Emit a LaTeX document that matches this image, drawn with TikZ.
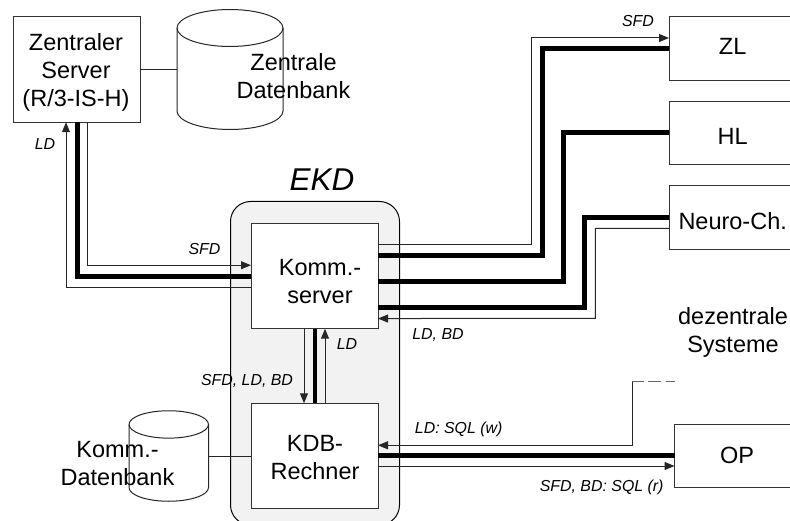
\documentclass[tikz,border=0pt]{standalone}
\usepackage{fontspec}
\setmainfont{Liberation Sans}
\usetikzlibrary{arrows.meta,calc}
\tikzset{
  boxn/.style={draw=black!80,line width=1pt,fill=white,inner sep=0pt,outer sep=0pt,minimum width=127pt,minimum height=#1},
  boxn/.default=105.5pt,
  sysbox/.style={draw=black!80,line width=1pt,fill=white,inner sep=0pt,outer sep=0pt,minimum width=140pt,minimum height=63.5pt},
  dbarea/.style={inner sep=0pt,outer sep=0pt},
  big/.style={font=\fontsize{23.5}{28}\selectfont,align=center,inner sep=0pt},
  tag/.style={font=\fontsize{15.9}{18}\selectfont\itshape,inner sep=0pt},
  thin line/.style={draw=black!85,line width=1pt},
  thick line/.style={draw=black,line width=5pt},
  arr/.style={thin line,-{Triangle[length=10pt,width=8pt]}},
}
\newcommand{\dbcyl}[3]{% node, half width, ry
  \draw[line width=1pt,draw=black!85] ($(#1.north west)+(0,-#3)$) arc[start angle=180,end angle=0,x radius=#2,y radius=#3]
    -- ($(#1.south east)+(0,#3)$) arc[start angle=0,end angle=-180,x radius=#2,y radius=#3] -- cycle;
  \draw[line width=1pt,draw=black!85] ($(#1.north west)+(0,-#3)$) arc[start angle=180,end angle=360,x radius=#2,y radius=#3];
}
\begin{document}
\begin{tikzpicture}[x=1pt,y=-1pt]
\useasboundingbox (0,0) rectangle (790,521);
\clip (0,0) rectangle (790,521);
% EKD region
\draw[fill=black!5,draw=black,line width=1pt,rounded corners=20pt] (230.5,201.5) rectangle (399.5,525);
% boxes
\node[boxn] (zs) at (76.5,69.5) {};
\node[boxn] (ks) at (314.5,276) {};
\node[boxn] (kdb) at (314.5,456) {};
\node[sysbox,anchor=west] (zl) at (669,48.5) {};
\node[sysbox,anchor=west] (hl) at (669,133) {};
\node[sysbox,anchor=west] (nc) at (669,217.5) {};
\node[sysbox,anchor=west] (op) at (674.5,456) {};
% databases
\node[dbarea,minimum width=106pt,minimum height=120pt] (zdb) at (230,69.5) {};
\node[dbarea,minimum width=79.5pt,minimum height=90.5pt] (kd) at (168.75,456) {};
\draw[thin line] (zs) -- (zdb);
\draw[thin line] (kd) -- (kdb);
\dbcyl{zdb}{53pt}{18.5pt}
\dbcyl{kd}{39.75pt}{13.7pt}
% central server <-> komm server
\draw[arr] ($(zs.south west)+(74,0)$) |- ($(ks.north west)+(0,42)$);
\draw[thick line] ($(zs.south west)+(64,0)$) |- ($(ks.north west)+(0,53)$);
\draw[arr] ($(ks.north west)+(0,64)$) -| ($(zs.south west)+(53,0)$);
% komm server -> ZL
\draw[arr] ($(ks.north east)+(0,21)$) -| (531.7,38) -- (zl.west |- 0,38);
\draw[thick line] ($(ks.north east)+(0,32)$) -| (542.5,49) -- (zl.west |- 0,49);
% HL
\draw[thick line] ($(ks.north east)+(0,58.5)$) -| (563,133) -- (hl.west);
% Neuro
\draw[thick line] ($(ks.north east)+(0,84.7)$) -| (584.7,218) -- (nc.west |- 0,218);
\draw[arr] (nc.west |- 0,228.3) -| (595.3,318.3) -- ($(ks.north east)+(0,95.3)$);
% komm server <-> KDB
\draw[arr] ($(ks.south west)+(53,0)$) -- ($(kdb.north west)+(53,0)$);
\draw[draw=black,line width=4pt] ($(ks.south west)+(63.7,0)$) -- ($(kdb.north west)+(63.7,0)$);
\draw[arr] ($(kdb.north west)+(74,0)$) -- ($(ks.south west)+(74,0)$);
% KDB <-> OP
\draw[thick line] (kdb.east |- 0,455.7) -- (op.west |- 0,455.7);
\draw[arr] (kdb.east |- 0,466) -- (op.west |- 0,466);
\coordinate (dangle) at (632.3,381.7);
\draw[arr] (dangle) -- (632.3,445.3) -- (kdb.east |- 0,445.3);
\draw[draw=black!60,line width=1pt] (dangle) -- (644,381.7) (648,381.7) -- (661,381.7) (665.5,381.7) -- (675,381.7);
% large labels
\node[big] (t1) at (76,72.5) {Zentraler\\Server\\(R/3-IS-H)};
\node[big] (t2) at (293.5,76) {Zentrale\\Datenbank};
\node[big] (t3) at (320,282) {Komm.-\\server};
\node[big] (t4) at (315,457.5) {KDB-\\Rechner};
\node[big] (t5) at (117.5,464) {Komm.-\\Datenbank};
\node[big] (t6) at (732.7,46) {ZL};
\node[big] (t7) at (732.7,136) {HL};
\node[big] (t8) at (732.7,221) {Neuro-Ch.};
\node[big] (t9) at (733,332) {dezentrale\\Systeme};
\node[big] (t10) at (737,455) {OP};
\node[font=\fontsize{31.5}{36}\selectfont\itshape,inner sep=0pt] (ekd) at (322,180) {EKD};
% small labels
\node[tag] (l1) at (45,144) {LD};
\node[tag] (l2) at (204.5,249) {SFD};
\node[tag] (l3) at (638,21) {SFD};
\node[tag] (l4) at (438,335) {LD, BD};
\node[tag] (l5) at (347,344) {LD};
\node[tag] (l6) at (247,381) {SFD, LD, BD};
\node[tag] (l7) at (458.7,429) {LD: SQL (w)};
\node[tag] (l8) at (601.7,487.7) {SFD, BD: SQL (r)};
\end{tikzpicture}
\end{document}
